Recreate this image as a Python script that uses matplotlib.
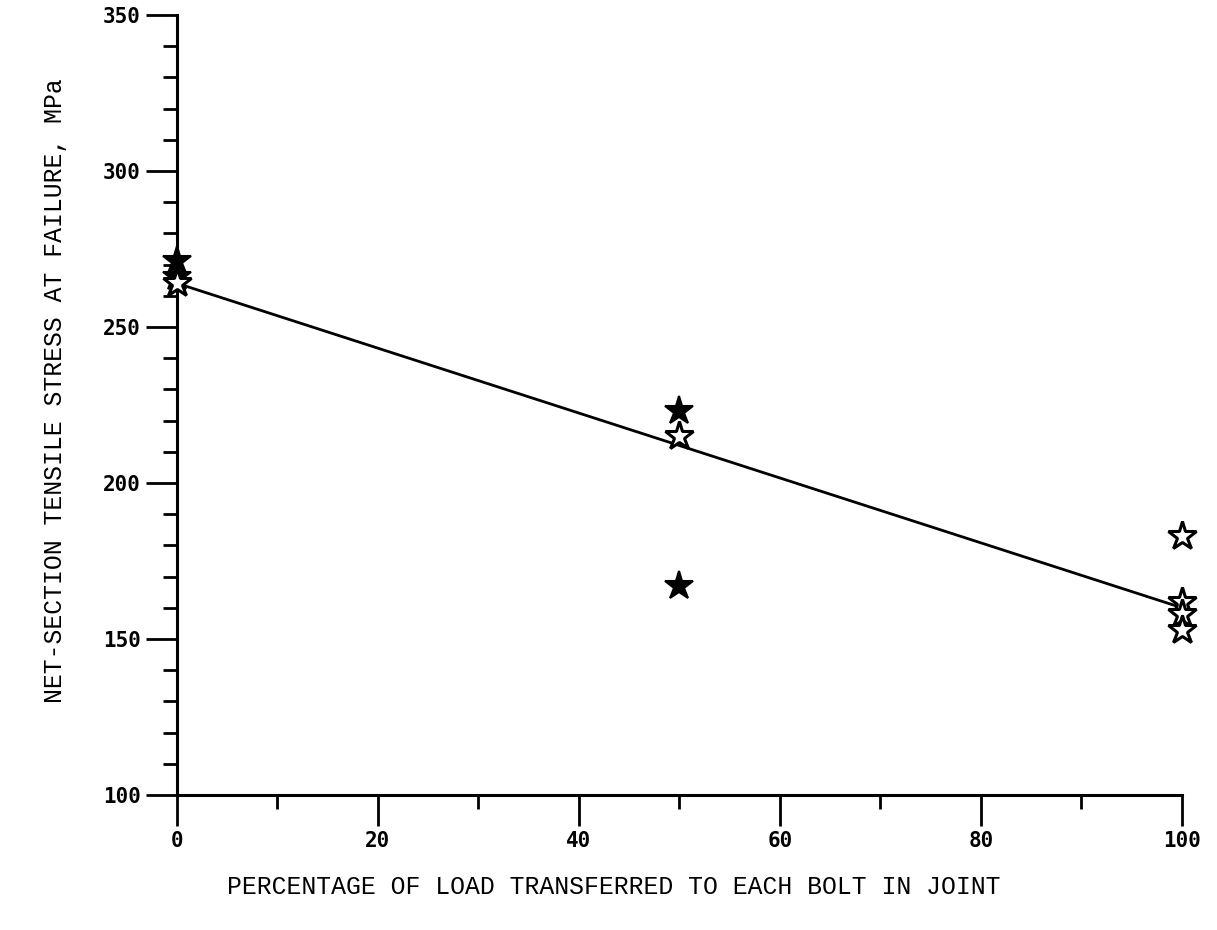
import numpy as np
import matplotlib.pyplot as plt
from matplotlib.ticker import MultipleLocator

# data
filled_pct = [0, 0, 50, 50]
filled_stress = [271, 266, 223, 167]
open_pct = [0, 50, 100, 100, 100, 100]
open_stress = [264, 215, 183, 162, 158, 153]

# fitted line end points
fit_pct = [0, 100]
fit_stress = [264, 160]

x_ticks = [0, 20, 40, 60, 80, 100]
y_ticks = [100, 150, 200, 250, 300, 350]

fig = plt.figure(figsize=(12.17, 9.30), dpi=100)
ax = fig.add_axes([0.1454, 0.1452, 0.8258, 0.8387])

ax.plot(fit_pct, fit_stress, color="black", lw=2.0, zorder=2)
ax.plot(filled_pct, filled_stress, ls="none", marker="*", ms=21,
        mfc="black", mec="black", mew=1.5, zorder=3, clip_on=False)
ax.plot(open_pct, open_stress, ls="none", marker="*", ms=21,
        mfc="white", mec="black", mew=2.2, zorder=3, clip_on=False)

ax.set_xlim(0, 100)
ax.set_ylim(100, 350)
ax.set_xticks(x_ticks)
ax.set_yticks(y_ticks)
ax.xaxis.set_minor_locator(MultipleLocator(10))
ax.yaxis.set_minor_locator(MultipleLocator(10))

for side in ["top", "right"]:
    ax.spines[side].set_visible(False)
for side in ["left", "bottom"]:
    ax.spines[side].set_linewidth(2.2)

tick_font = {"family": "DejaVu Sans Mono", "weight": "bold", "size": 15}
ax.set_xticklabels([str(v) for v in x_ticks], fontdict=tick_font)
ax.set_yticklabels([str(v) for v in y_ticks], fontdict=tick_font)
ax.tick_params(which="major", direction="out", length=22, width=2, pad=4)
ax.tick_params(which="minor", direction="out", length=10, width=2)

label_font = {"family": "Liberation Mono", "size": 17.8}
ax.set_xlabel("PERCENTAGE OF LOAD TRANSFERRED TO EACH BOLT IN JOINT",
              fontdict=label_font, va="center")
ax.xaxis.set_label_coords(0.435, -0.118)
ax.set_ylabel("NET-SECTION TENSILE STRESS AT FAILURE, MPa",
              fontdict=label_font, va="center")
ax.yaxis.set_label_coords(-0.121, 0.519)

fig.savefig("out.png", dpi=100)
